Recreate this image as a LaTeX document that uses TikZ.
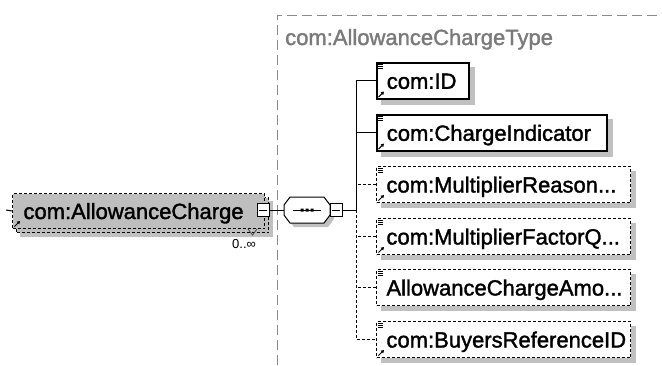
\documentclass[tikz,border=0pt]{standalone}
\usepackage{fontspec}
\setmainfont{Liberation Sans}
\newfontfamily\boxfont[FakeBold=1.6]{Liberation Sans}
\usetikzlibrary{arrows.meta}
\definecolor{shadowc}{HTML}{C0C0C0}
\definecolor{selfill}{HTML}{BEBEBE}
\definecolor{grp}{HTML}{8A8A8A}
\definecolor{grptext}{HTML}{7A7A7A}
\pgfdeclarelayer{bglayer}
\pgfdeclarelayer{shlayer}
\pgfsetlayers{bglayer,shlayer,main}
\begin{document}
\begin{tikzpicture}[x=1pt,y=-1pt,
  elem/.style={draw=black, fill=white, line width=1.6pt, anchor=north west,
    minimum height=36pt, inner xsep=10pt, inner ysep=0pt, align=left,
    text height=16pt, text depth=0pt, font=\boxfont\fontsize{22}{26}\selectfont},
  optelem/.style={elem, line width=1pt, dash pattern=on 3pt off 2pt},
  selbox/.style={draw=black, fill=selfill, line width=1pt, dash pattern=on 3pt off 2pt,
    anchor=north west, minimum height=35pt, inner xsep=11pt, inner ysep=0pt, align=left,
    text height=16pt, text depth=0pt, font=\boxfont\fontsize{22}{26}\selectfont},
  conn/.style={draw=black, line width=1pt},
  dconn/.style={draw=black, line width=1pt, dash pattern=on 3pt off 2pt},
  mbox/.style={draw=black, fill=white, line width=1pt, minimum width=12pt, minimum height=13pt, inner sep=0pt,
    path picture={\draw[line width=1pt] ([xshift=2pt]path picture bounding box.west) -- ([xshift=-2pt]path picture bounding box.east);}},
  eqicon/.pic={\draw[line width=0.6pt] (2,2.5) -- (7,2.5) (2,4.2) -- (7,4.2) (2,5.9) -- (7,5.9);},
  reficon/.pic={\draw[line width=1pt,-{Triangle[length=3pt,width=3.5pt]}] (2.5,-2.5) -- (8,-8);},
  octa/.pic={
    \fill[fill=shadowc,shift={(4,4)}] (-23,-5)--(-17,-13)--(17,-13)--(23,-5)--(23,5)--(17,13)--(-17,13)--(-23,5)--cycle;
    \filldraw[fill=white,draw=black,line width=1pt] (-23,-5)--(-17,-13)--(17,-13)--(23,-5)--(23,5)--(17,13)--(-17,13)--(-23,5)--cycle;
    \draw[line width=1pt] (-14,0)--(14,0);
    \fill (-6.5,-1.5) rectangle (-3.5,1.5) (-1.5,-1.5) rectangle (1.5,1.5) (3.5,-1.5) rectangle (6.5,1.5);
  }
]
\begin{pgfonlayer}{bglayer}
\fill[white] (0,0) rectangle (662,365);
\end{pgfonlayer}
\useasboundingbox (0,0) rectangle (662,365);

% group frame
\coordinate (gb) at (277,365);
\coordinate (gc) at (277,15);
\coordinate (gr) at (662,15);
\draw[grp, line width=1pt, dash pattern=on 10pt off 5pt] (gb) -- (gc) -- (gr);
\node[anchor=base west, inner sep=0pt, text=grptext, font=\boxfont\fontsize{22}{26}\selectfont] (glabel) at (285,45) {com:AllowanceChargeType};

% left element (repeated)
\node[selbox, minimum width=252pt] (lback) at (16,197) {};
\node[selbox, text width=230pt] (lbox) at (12,193) {com:AllowanceCharge};
\pic at (lbox.south west) {reficon};
\coordinate (lstub) at (6,210);
\draw[conn] (lstub) -- (lbox.west);
\draw[line width=0.8pt, black!70] (248,229) -- (252.5,235) -- (257,229);
\node[anchor=west, inner sep=0pt, font=\fontsize{13}{15}\selectfont] (card) at (232,244) {0..∞};
\node[mbox] (lm) at (263,210) {};

% sequence
\node[minimum width=46pt, minimum height=26pt, inner sep=0pt] (seq) at (307,210) {};
\pic at (seq.center) {octa};
\node[mbox] (sm) at (336,210) {};
\coordinate (j) at (356,210);
\draw[conn] (lm.east) -- (seq.west);
\draw[conn] (sm.east) -- (j);

% children
\node[elem, text width=72pt] (id) at (376,62) {com:ID};
\node[elem, text width=210pt] (ci) at (376,114) {com:ChargeIndicator};
\node[optelem, text width=234pt] (mr) at (376,166) {com:MultiplierReason...};
\node[optelem, text width=234pt] (mf) at (376,218) {com:MultiplierFactorQ...};
\node[optelem, text width=234pt] (am) at (376,269) {AllowanceChargeAmo...};
\node[optelem, text width=234pt] (br) at (376,321) {com:BuyersReferenceID};

\begin{pgfonlayer}{shlayer}
\foreach \n in {id,ci,mr,mf,am,br} {
  \fill[shadowc] ([shift={(5,5)}]\n.north west) rectangle ([shift={(5,5)}]\n.south east);
}
\fill[shadowc] ([shift={(4,4)}]lback.north west) rectangle ([shift={(4,4)}]lback.south east);
\end{pgfonlayer}

\foreach \n in {id,ci,mr,mf,am,br} {\pic at (\n.north west) {eqicon};}
\foreach \n in {id,ci,mr,mf,br} {\pic at (\n.south west) {reficon};}

\draw[conn] (j) |- (id.west);
\draw[conn] (ci.west) -- (ci.west -| j);
\draw[dconn] (j) |- (br.west);
\draw[dconn] (mr.west) -- (mr.west -| j);
\draw[dconn] (mf.west) -- (mf.west -| j);
\draw[dconn] (am.west) -- (am.west -| j);
\end{tikzpicture}
\end{document}
